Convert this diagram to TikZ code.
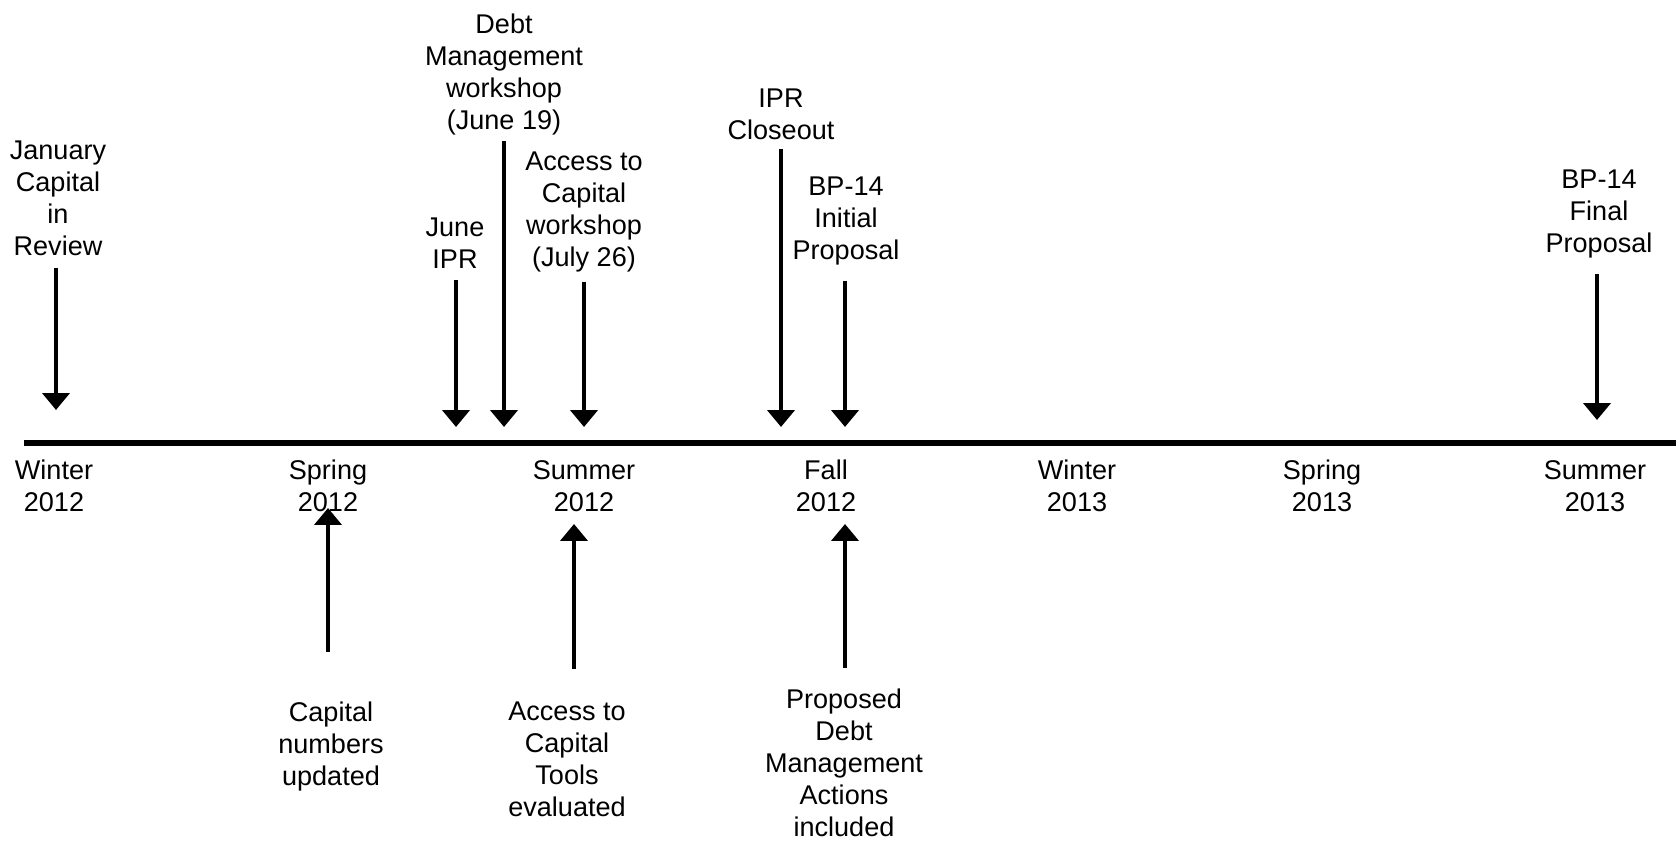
\documentclass[tikz,border=0pt]{standalone}
\usepackage{fontspec}
\setmainfont{Liberation Sans}
\usepackage{tikz}
\usetikzlibrary{arrows.meta}

\begin{document}
\begin{tikzpicture}[x=0.02cm, y=-0.02cm,
        font=\fontsize{15.4pt}{18.2pt}\selectfont,
        lbl/.style={align=center, inner sep=0pt, anchor=north},
        evarrow/.style={line width=2.5pt, -{Triangle[length=0.34cm, width=0.54cm]}},
        axisline/.style={line width=3.4pt}]
        \useasboundingbox (0,0) rectangle (1676,844);

        % Timeline
        \coordinate (tl-start) at (24,443);
        \coordinate (tl-end) at (1676,443);
        \draw[axisline] (tl-start) -- (tl-end);

        % Seasons below the line
        \foreach \x/\nm/\txt in {54/wi12/{Winter\\2012}, 328/sp12/{Spring\\2012}, 584/su12/{Summer\\2012}, 826/fa12/{Fall\\2012}, 1077/wi13/{Winter\\2013}, 1322/sp13/{Spring\\2013}, 1595/su13/{Summer\\2013}}
            \node[lbl] (\nm) at (\x,460) {\txt};

        % Events above the line
        \node[lbl] (jan) at (58,141) {January\\Capital\\in\\Review};
        \node[lbl] (juneipr) at (455,218) {June\\IPR};
        \node[lbl] (debtws) at (504,14) {Debt\\Management\\workshop\\(June 19)};
        \node[lbl] (accessws) at (584,152) {Access to\\Capital\\workshop\\(July 26)};
        \node[lbl] (iprclose) at (781,89) {IPR\\Closeout};
        \node[lbl] (bpinit) at (846,177) {BP-14\\Initial\\Proposal};
        \node[lbl] (bpfinal) at (1599,170) {BP-14\\Final\\Proposal};

        \coordinate (jan-tip) at (56,410);
        \coordinate (juneipr-tip) at (456,427);
        \coordinate (debtws-tip) at (504,427);
        \coordinate (accessws-tip) at (584,427);
        \coordinate (iprclose-tip) at (781,427);
        \coordinate (bpinit-tip) at (845,427);
        \coordinate (bpfinal-tip) at (1597,420);

        \draw[evarrow, shorten <=0.22cm] (jan.south -| jan-tip) -- (jan-tip);
        \draw[evarrow, shorten <=0.22cm] (juneipr.south -| juneipr-tip) -- (juneipr-tip);
        \draw[evarrow, shorten <=0.1cm] (debtws.south -| debtws-tip) -- (debtws-tip);
        \draw[evarrow, shorten <=0.18cm] (accessws.south -| accessws-tip) -- (accessws-tip);
        \draw[evarrow, shorten <=0.16cm] (iprclose.south -| iprclose-tip) -- (iprclose-tip);
        \draw[evarrow, shorten <=0.3cm] (bpinit.south -| bpinit-tip) -- (bpinit-tip);
        \draw[evarrow, shorten <=0.3cm] (bpfinal.south -| bpfinal-tip) -- (bpfinal-tip);

        % Events below the line
        \node[lbl] (capnum) at (331,701.5) {Capital\\numbers\\updated};
        \node[lbl] (tools) at (567,701.5) {Access to\\Capital\\Tools\\evaluated};
        \node[lbl] (proposed) at (844,689) {Proposed\\Debt\\Management\\Actions\\included};

        \coordinate (capnum-tip) at (328,508);
        \coordinate (tools-tip) at (574,524);
        \coordinate (proposed-tip) at (845,524);

        \draw[evarrow, shorten <=1cm] (capnum.north -| capnum-tip) -- (capnum-tip);
        \draw[evarrow, shorten <=0.66cm] (tools.north -| tools-tip) -- (tools-tip);
        \draw[evarrow, shorten <=0.42cm] (proposed.north -| proposed-tip) -- (proposed-tip);
    \end{tikzpicture}
\end{document}
